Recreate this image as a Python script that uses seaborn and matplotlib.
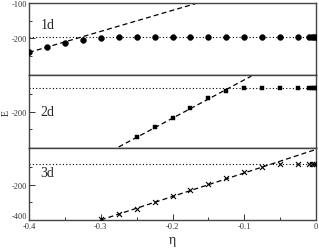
import numpy as np
import pandas as pd
import matplotlib
matplotlib.use("Agg")
import matplotlib.pyplot as plt
import seaborn as sns

# eta grid (the last four points bunch up near zero)
eta_1d = [-0.4, -0.375, -0.35, -0.325, -0.3, -0.275, -0.25, -0.225, -0.2, -0.175,
          -0.15, -0.125, -0.1, -0.075, -0.05, -0.025, -0.01, -0.006, -0.003, 0.0]
E_1d = [-239, -225, -212, -204, -198, -196, -196, -196, -196, -196,
        -196, -196, -196, -196, -196, -196, -196, -196, -196, -196]

eta_2d = [-0.25, -0.225, -0.2, -0.175, -0.15, -0.125, -0.1, -0.075, -0.05, -0.025,
          -0.01, -0.006, -0.003, 0.0]
E_2d = [-272, -244, -217, -189, -161, -142, -133, -131, -131, -131,
        -131, -131, -131, -131]

eta_3d = [-0.3, -0.275, -0.25, -0.225, -0.2, -0.175, -0.15, -0.125, -0.1, -0.075,
          -0.05, -0.025, -0.01, -0.006, -0.003, 0.0]
E_3d = [-395, -366, -335, -298, -263, -229, -194, -160, -126, -97,
        -80, -80, -80, -80, -80, -80]

# asymptotic levels (dotted) and linear fits (dashed)
levels = [-196, -131, -80]
fit_x = [[-0.4, -0.16], [-0.275, -0.09], [-0.3, 0.0]]
fit_y = [[-240, -97], [-300, -98], [-400, 0]]

panel_names = ["1d", "2d", "3d"]
label_pos = [0.7, 0.5, 0.66]
markers = ["o", "s", "x"]
ylims = [(-305, -100), (-302, -96), (-400, 10)]
major_y = [[-200, -100], [-200], [-400, -200]]
minor_y = [[-250, -150], [-250, -150], [-300, -100]]

sns.set_theme(style="ticks")
plt.rcParams['font.family'] = ['Liberation Serif', 'DejaVu Serif']

fig, axes = plt.subplots(3, 1, figsize=(3.19, 2.51), dpi=100, sharex=True)
fig.subplots_adjust(left=29/319, right=316/319, top=1-4/251, bottom=1-221/251, hspace=0)

data = [(eta_1d, E_1d), (eta_2d, E_2d), (eta_3d, E_3d)]
for i, ax in enumerate(axes):
    x, y = data[i]
    df = pd.DataFrame({'eta': x, 'E': y})
    ax.axhline(levels[i], color='black', ls=(0, (1, 2)), lw=0.8)
    ax.plot(fit_x[i], fit_y[i], color='black', ls=(0, (4, 2.5)), lw=0.9)
    if markers[i] == "x":
        sns.scatterplot(data=df, x='eta', y='E', ax=ax, marker='x', s=13,
                        color='black', linewidth=0.8, legend=False, zorder=3)
    else:
        sns.scatterplot(data=df, x='eta', y='E', ax=ax, marker=markers[i],
                        s=18 if markers[i] == 'o' else 12, color='black',
                        edgecolor='black', linewidth=0.3, legend=False, zorder=3)
    ax.set_ylim(*ylims[i])
    ax.set_xlim(-0.4, 0)
    ax.set_yticks(major_y[i])
    ax.set_yticks(minor_y[i], minor=True)
    ax.set_xticks([-0.4, -0.3, -0.2, -0.1, 0])
    ax.set_xticks([-0.35, -0.25, -0.15, -0.05], minor=True)
    ax.tick_params(axis='both', which='major', direction='in', length=4,
                   width=0.7, labelsize=6, pad=1.5, colors='#333333')
    ax.tick_params(axis='both', which='minor', direction='in', length=2.5,
                   width=0.7, colors='#333333')
    ax.set_xlabel('')
    ax.set_ylabel('')
    for sp in ax.spines.values():
        sp.set_linewidth(1.0)
        sp.set_color('#444444')
    ax.text(0.04, label_pos[i], panel_names[i],
            transform=ax.transAxes, fontsize=10, va='center', ha='left')
    if i < 2:
        ax.tick_params(axis='x', which='both', bottom=False, labelbottom=False)
        ax.spines['bottom'].set_color('black')

axes[2].set_xticklabels(['-0.4', '-0.3', '-0.2', '-0.1', '0'])
for ax in axes:
    ax.set_yticklabels([str(v) for v in ax.get_yticks()])
# nudge the bottom y label up a little, like the reference
axes[2].get_yticklabels()[0].set_verticalalignment('bottom')
axes[2].set_xlabel('η', fontsize=10, labelpad=2)
fig.text(0.02, 0.55, 'E', rotation=90, fontsize=7, va='center', ha='center')

fig.savefig('out.png', dpi=100)
